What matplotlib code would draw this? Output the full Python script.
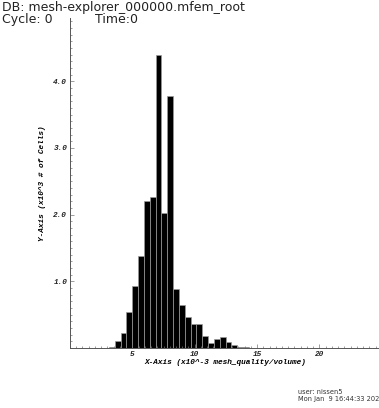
import matplotlib.pyplot as plt
from matplotlib.ticker import MultipleLocator, FormatStrFormatter

# histogram bins (x10^-3 mesh_quality/volume) and counts (x10^3 cells)
bin_start = 2.65
bin_width = 0.468
counts = [0.004, 0.012, 0.105, 0.22, 0.545, 0.935, 1.385, 2.205, 2.27,
          4.395, 2.02, 3.78, 0.885, 0.64, 0.47, 0.36, 0.36, 0.18, 0.07,
          0.135, 0.16, 0.095, 0.045, 0.02, 0.01, 0.004]

edges = [bin_start + i * bin_width for i in range(len(counts))]

fig = plt.figure(figsize=(3.79, 4.08), dpi=100)
ax = fig.add_axes([70 / 379, 60 / 408, 309 / 379, 330 / 408])

ax.bar(edges, counts, width=bin_width, align='edge', color='black',
       edgecolor='#9a9a9a', linewidth=0.5)

ax.set_xlim(0, 24.78)
ax.set_ylim(0, 4.95)

for side in ['top', 'right']:
    ax.spines[side].set_visible(False)
for side in ['left', 'bottom']:
    ax.spines[side].set_color('#555555')
    ax.spines[side].set_linewidth(0.7)

tick_font = dict(family='Liberation Mono', weight='bold', style='italic', size=5.6)
ax.xaxis.set_major_locator(MultipleLocator(5))
ax.xaxis.set_minor_locator(MultipleLocator(0.5))
ax.yaxis.set_major_locator(MultipleLocator(1))
ax.yaxis.set_minor_locator(MultipleLocator(0.1))
ax.yaxis.set_major_formatter(FormatStrFormatter('%.1f'))
ax.xaxis.set_major_formatter(FormatStrFormatter('%d'))
ax.tick_params(which='both', direction='in', color='#777777', width=0.5)
ax.tick_params(which='major', length=3, pad=2)
ax.tick_params(which='minor', length=1.5)
ax.set_xticks([5, 10, 15, 20])
ax.set_yticks([1, 2, 3, 4])
for lbl in ax.get_xticklabels() + ax.get_yticklabels():
    lbl.set_fontproperties(tick_font)
    lbl.set_color('#222222')

ax.set_xlabel('X-Axis (x10^-3 mesh_quality/volume)', labelpad=1,
              x=(225 - 70) / 309, **tick_font)
ax.set_ylabel('Y-Axis (x10^3 # of Cells)', labelpad=5, **tick_font)

fig.text(2 / 379, 1 - 1 / 408, 'DB: mesh-explorer_000000.mfem_root',
         ha='left', va='top', fontsize=9, color='#222222')
fig.text(2 / 379, 1 - 13 / 408, 'Cycle: 0', ha='left', va='top',
         fontsize=9, color='#222222')
fig.text(95 / 379, 1 - 13 / 408, 'Time:0', ha='left', va='top',
         fontsize=9, color='#222222')
fig.text(298 / 379, 1 - 389 / 408, 'user: nissen5', ha='left', va='top',
         fontsize=4.8, color='#333333')
fig.text(298 / 379, 1 - 396 / 408, 'Mon Jan  9 16:44:33 2023', ha='left',
         va='top', fontsize=4.8, color='#333333')

fig.savefig('out.png', dpi=100)
